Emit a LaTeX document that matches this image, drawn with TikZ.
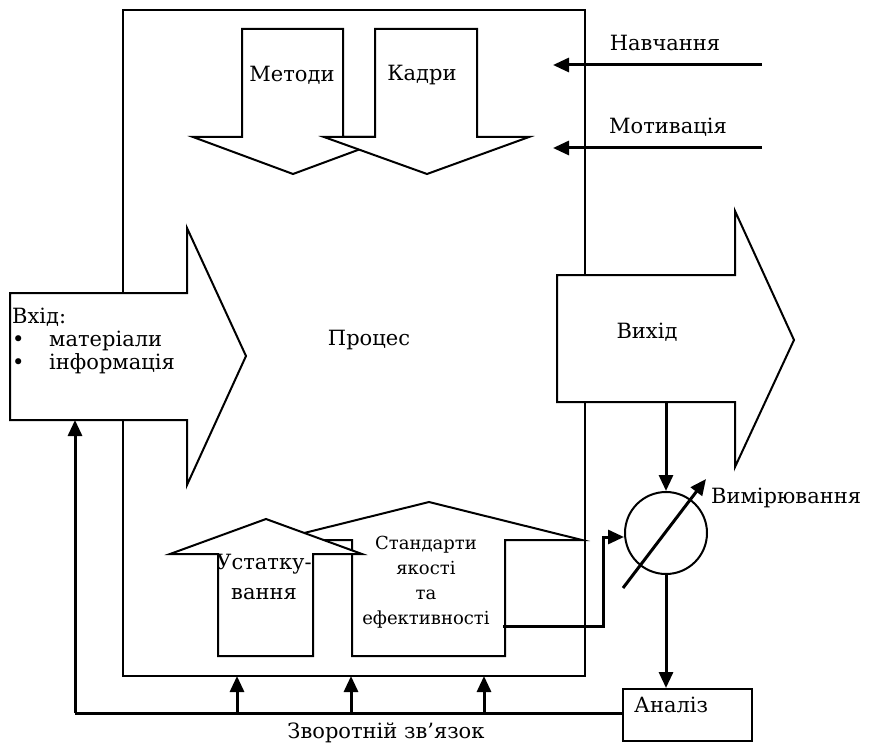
\documentclass[tikz,border=0pt]{standalone}
\usepackage{fontspec}
\setmainfont{DejaVu Serif}
\usetikzlibrary{arrows.meta}
\begin{document}
\begin{tikzpicture}[x=1pt,y=-1pt,
  shapeline/.style={draw=black, line width=2pt, fill=white, line join=miter},
  conn/.style={draw=black, line width=3pt},
  arr/.style={conn, -{Triangle[length=16pt,width=14pt]}},
  lbl/.style={font=\fontsize{21}{23}\selectfont, inner sep=0pt},
  slbl/.style={font=\fontsize{18}{25}\selectfont, inner sep=0pt, align=center}]
\useasboundingbox (0,0) rectangle (870,746);
% main process box
\draw[line width=2pt] (123,10) rectangle (585,676);
% top arrows
\path[shapeline] (242,29) -- (343,29) -- (343,137) -- (393,137) -- (293,174) -- (193,137) -- (242,137) -- cycle;
\path[shapeline] (375,29) -- (477,29) -- (477,137) -- (529,137) -- (427,174) -- (324,137) -- (375,137) -- cycle;
% input arrow
\path[shapeline] (10,293) -- (187,293) -- (187,228) -- (246,356) -- (187,485) -- (187,420) -- (10,420) -- cycle;
% output arrow
\path[shapeline] (557,275) -- (735,275) -- (735,211) -- (794,340) -- (735,467) -- (735,402) -- (557,402) -- cycle;
% bottom arrows
\path[shapeline] (352,656) -- (352,540) -- (276,540) -- (429,502) -- (582,540) -- (505,540) -- (505,656) -- cycle;
\path[shapeline] (218,656) -- (218,554) -- (170,554) -- (266,519) -- (362,554) -- (313,554) -- (313,656) -- cycle;
% texts
\node[lbl] (metody) at (292,75) {Методи};
\node[lbl] (kadry) at (422,75) {Кадри};
\node[lbl] (navch) at (665,43) {Навчання};
\node[lbl] (motyv) at (668,127) {Мотивація};
\node[lbl] (proc) at (369,340) {Процес};
\node[lbl] (vyhid) at (647,332) {Вихід};
\node[lbl, anchor=west, align=left] (vhid) at (12,341) {Вхід:\\\makebox[37pt][l]{•}матеріали\\\makebox[37pt][l]{•}інформація};
\node[lbl, align=center, font=\fontsize{21}{30}\selectfont] (ustat) at (264,577) {Устатку-\\вання};
\node[slbl] (stand) at (426,582) {Стандарти\\якості\\та\\ефективності};
\node[lbl, anchor=west] (vymir) at (711,498) {Вимірювання};
\node[lbl] (zvor) at (386,733) {Зворотній зв’язок};
% measurement and analysis
\node[circle, draw, line width=2pt, minimum size=82pt, inner sep=0pt] (meas) at (666,533) {};
\node[draw, line width=2pt, minimum width=129pt, minimum height=52pt, inner sep=0pt] (an) at (687.5,715) {};
\node[lbl, anchor=west] (antxt) at (634,705) {Аналіз};
% input connectors
\coordinate (nvR) at (762,65);
\coordinate (nvL) at (553,65);
\coordinate (mtR) at (762,148);
\coordinate (mtL) at (553,148);
\draw[arr] (nvR) -- (nvL);
\draw[arr] (mtR) -- (mtL);
% output to measurement
\coordinate (outB) at (666,402);
\draw[arr] (outB) -- (meas.north);
\coordinate (dgA) at (623,588);
\coordinate (dgB) at (706,479);
\draw[arr] (dgA) -- (dgB);
\coordinate (stR) at (503,626);
\coordinate (stK) at (603,537);
\draw[arr] (stR) -| (stK) -- (meas.west |- stK);
\draw[arr] (meas.south) -- (meas.south |- an.north);
% feedback
\coordinate (fbL) at (75,713);
\coordinate (inB) at (75,420);
\draw[conn] (an.west |- fbL) -- (fbL);
\draw[arr] (fbL) -- (inB);
\coordinate (f1) at (237,713);
\coordinate (f2) at (351,713);
\coordinate (f3) at (484,713);
\coordinate (p1) at (237,676);
\coordinate (p2) at (351,676);
\coordinate (p3) at (484,676);
\draw[arr] (f1) -- (p1);
\draw[arr] (f2) -- (p2);
\draw[arr] (f3) -- (p3);
\end{tikzpicture}
\end{document}
